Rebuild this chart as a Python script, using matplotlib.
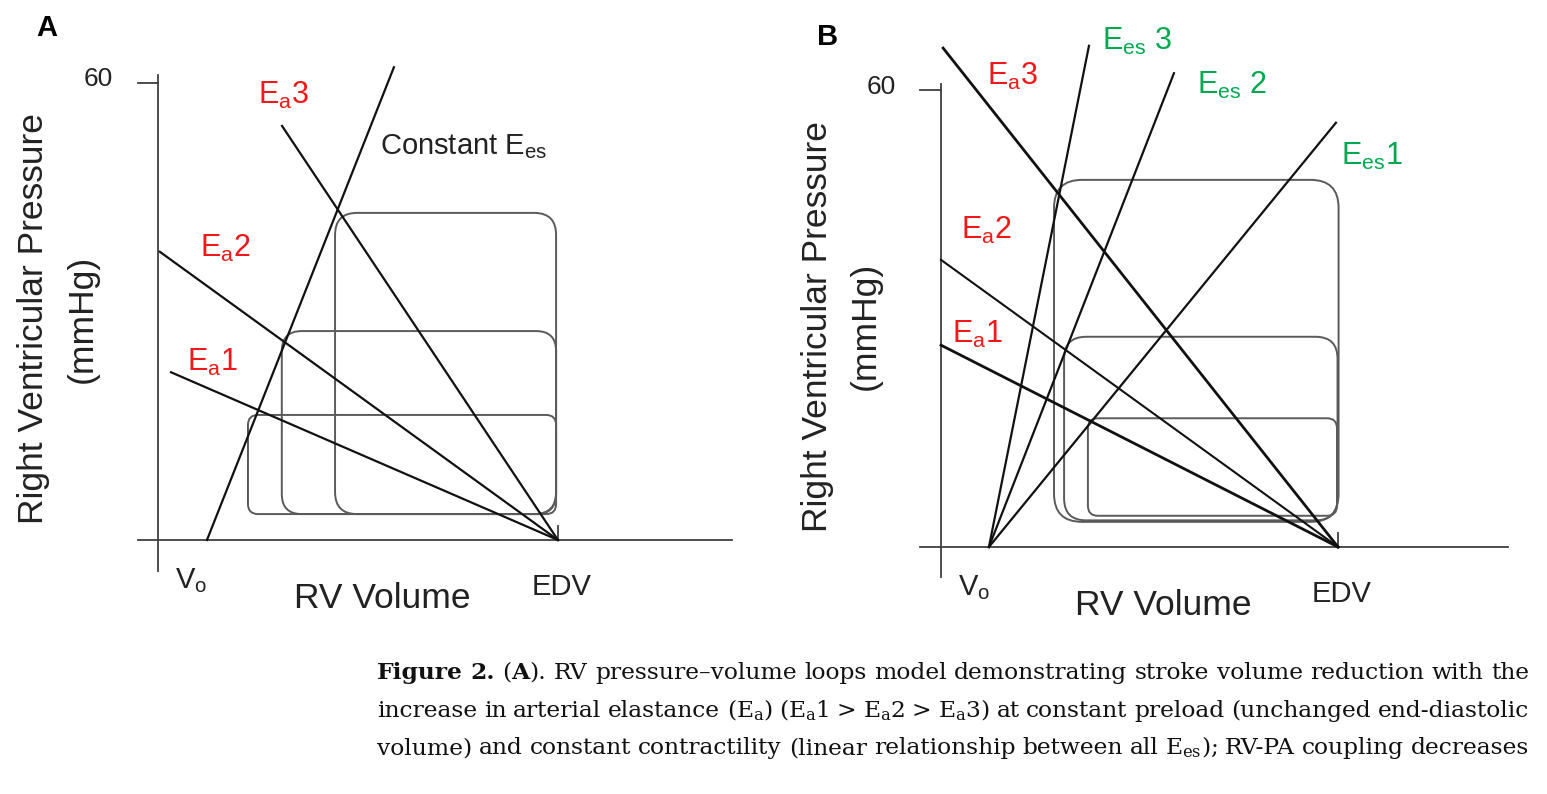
# RV pressure-volume loop schematic: (A) rising Ea at constant Ees, (B) Ees/Ea combinations
import matplotlib.pyplot as plt
from matplotlib.patches import FancyBboxPatch

plt.rcParams['font.family'] = 'Liberation Sans'

W, H = 1547, 794
fig = plt.figure(figsize=(W / 100, H / 100), dpi=100)

# ---------------- data (volume in arbitrary units, pressure in mmHg) ----------------
edv = 150.0

# panel A
a_vo = 18.2
a_ees_top_v, a_ees_top_p = 88.4, 62.0          # single (constant) Ees line
a_ea_start_v = [4.7, 0.5, 46.4]                # Ea1, Ea2, Ea3
a_ea_start_p = [22.0, 37.8, 54.3]
a_loop_esv = [33.6, 46.3, 66.3]
a_loop_esp = [16.4, 27.4, 42.9]
a_loop_edv = [149.3, 149.3, 149.3]
a_loop_edp = [3.4, 3.4, 3.4]

# panel B
b_vo = 18.1
b_ees_top_v = [149.2, 88.0, 55.9]              # Ees1, Ees2, Ees3
b_ees_top_p = [55.7, 62.2, 65.8]
b_ea_start_v = [0.0, 0.0, 0.8]                 # Ea1, Ea2, Ea3
b_ea_start_p = [26.5, 37.7, 65.5]
b_loop_esv = [55.5, 46.5, 42.7]
b_loop_esp = [16.9, 27.6, 48.2]
b_loop_edv = [149.6, 149.8, 150.2]
b_loop_edp = [4.1, 3.5, 3.3]

ea_labels = [r'$\mathregular{E_a1}$', r'$\mathregular{E_a2}$', r'$\mathregular{E_a3}$']
ees_labels = [r'$\mathregular{E_{es}1}$', r'$\mathregular{E_{es}}$ 2', r'$\mathregular{E_{es}}$ 3']

caption = [
    "**Figure 2.** (**A**). RV pressure\u2013volume loops model demonstrating stroke volume reduction with the",
    "increase in arterial elastance (E$_{\\mathregular{a}}$) (E$_{\\mathregular{a}}$1 > E$_{\\mathregular{a}}$2 > "
    "E$_{\\mathregular{a}}$3) at constant preload (unchanged end-diastolic",
    "volume) and constant contractility (linear relationship between all E$_{\\mathregular{es}}$); "
    "RV-PA coupling decreases",
]

RED = '#f01818'
GREEN = '#00a84f'
LOOP = '#5a5a5a'
AXC = '#404040'


def make_axes(x0, y0, sx, sy, xlim, ylim):
    # x0, y0: pixel position of the data origin, sx, sy: pixels per unit
    left = (x0 + sx * xlim[0]) / W
    bottom = 1 - (y0 - sy * ylim[0]) / H
    ax = fig.add_axes([left, bottom, sx * (xlim[1] - xlim[0]) / W, sy * (ylim[1] - ylim[0]) / H])
    ax.set_xlim(xlim)
    ax.set_ylim(ylim)
    ax.axis('off')
    return ax


def frame(ax, xmin, xmax, ymin, ymax, letter, letter_xy):
    ax.plot([0, 0], [ymin, ymax], color=AXC, lw=1.3)
    ax.plot([xmin, xmax], [0, 0], color=AXC, lw=1.3)
    ax.plot([xmin, 0], [60, 60], color=AXC, lw=1.3)
    ax.plot([edv, edv], [0, 1.9], color=AXC, lw=1.3)
    ax.text(-17.1, 60.4, '60', fontsize=19, ha='right', va='center', color='#222222')
    ax.text(-46.8, 29.0, 'Right Ventricular Pressure', fontsize=25.5, rotation=90,
            ha='center', va='center', color='#222222')
    ax.text(-28.5, 29.0, '(mmHg)', fontsize=25.5, rotation=90, ha='center', va='center',
            color='#222222')
    ax.text(84.0, -7.7, 'RV Volume', fontsize=25.5, ha='center', va='center', color='#222222')
    ax.text(151.5, -6.2, 'EDV', fontsize=21, ha='center', va='center', color='#222222')
    ax.text(6.3, -5.3, r'$\mathregular{V_o}$', fontsize=21, ha='left', va='center', color='#222222')
    ax.text(letter_xy[0], letter_xy[1], letter, fontsize=21, weight='bold', ha='left', va='center')


def loop(ax, esv, esp, lvedv, edp, r_px, sx, sy):
    r = r_px / sx
    ax.add_patch(FancyBboxPatch((esv, edp), lvedv - esv, esp - edp,
                                boxstyle=f'round,pad=0,rounding_size={r}',
                                mutation_aspect=sx / sy, fill=False, ec=LOOP, lw=1.4))


# ---------------- panel A ----------------
sxA, syA = 2.663, 7.625
axA = make_axes(158.5, 540, sxA, syA, (-55, 218), (-10, 70))
frame(axA, -7.7, 215.4, -4.1, 61.0, 'A', (-45.8, 67.1))
for esv, esp, v, p, r in zip(a_loop_esv, a_loop_esp, a_loop_edv, a_loop_edp, [10, 20, 22]):
    loop(axA, esv, esp, v, p, r, sxA, syA)
axA.plot([a_vo, a_ees_top_v], [0, a_ees_top_p], color='#111111', lw=1.6)
for v, p in zip(a_ea_start_v, a_ea_start_p):
    axA.plot([v, edv], [p, 0], color='#111111', lw=1.6)
for lab, x, y in zip(ea_labels, [10.7, 15.6, 37.2], [23.3, 38.2, 58.3]):
    axA.text(x, y, lab, fontsize=22, color=RED, ha='left', va='center')
axA.text(83.1, 51.6, r'Constant $\mathregular{E_{es}}$', fontsize=21, ha='left', va='center',
         color='#222222')

# ---------------- panel B ----------------
sxB, syB = 2.647, 7.617
axB = make_axes(941, 547, sxB, syB, (-55, 220), (-10, 72))
frame(axB, -7.9, 214.2, -3.9, 60.8, 'B', (-46.8, 67.0))
for esv, esp, v, p, r in zip(b_loop_esv, b_loop_esp, b_loop_edv, b_loop_edp, [10, 22, 28]):
    loop(axB, esv, esp, v, p, r, sxB, syB)
for v, p in zip(b_ees_top_v, b_ees_top_p):
    axB.plot([b_vo, v], [0, p], color='#111111', lw=1.6)
for v, p, w in zip(b_ea_start_v, b_ea_start_p, [2.0, 1.5, 2.0]):
    axB.plot([v, edv], [p, 0], color='#111111', lw=w)
for lab, x, y in zip(ea_labels, [4.2, 7.6, 17.4], [27.9, 41.5, 61.8]):
    axB.text(x, y, lab, fontsize=22, color=RED, ha='left', va='center')
for lab, x, y in zip(ees_labels, [151.1, 96.7, 60.8], [51.3, 60.6, 66.4]):
    axB.text(x, y, lab, fontsize=22, color=GREEN, ha='left', va='center')

# ---------------- caption (justified) ----------------
cap = fig.add_axes([0, 0, 1, 1])
cap.set_xlim(0, W)
cap.set_ylim(H, 0)
cap.axis('off')
renderer = fig.canvas.get_renderer()
CAP_FS = 16.8
CAP_FONT = 'DejaVu Serif'
CAP_L, CAP_R = 377, 1529
baselines = [679, 716.7, 754]


def split_words(line):
    words = [[]]
    for i, piece in enumerate(line.split('**')):
        bold = i % 2 == 1
        for j, part in enumerate(piece.split(' ')):
            if j > 0:
                words.append([])
            if part:
                words[-1].append((part, bold))
    return [w for w in words if w]


def seg_width(s, bold):
    t = cap.text(0, 0, s, fontsize=CAP_FS, family=CAP_FONT,
                 weight='bold' if bold else 'normal')
    w = t.get_window_extent(renderer).width
    t.remove()
    return w


for line, base in zip(caption, baselines):
    words = split_words(line)
    widths = [[seg_width(s, b) for s, b in w] for w in words]
    total = sum(sum(ws) for ws in widths)
    gap = (CAP_R - CAP_L - total) / (len(words) - 1)
    x = CAP_L
    for w, ws in zip(words, widths):
        for (s, b), sw in zip(w, ws):
            cap.text(x, base, s, fontsize=CAP_FS, family=CAP_FONT,
                     weight='bold' if b else 'normal', ha='left', va='baseline', color='#111111')
            x += sw
        x += gap

fig.savefig('out.png', dpi=100)
